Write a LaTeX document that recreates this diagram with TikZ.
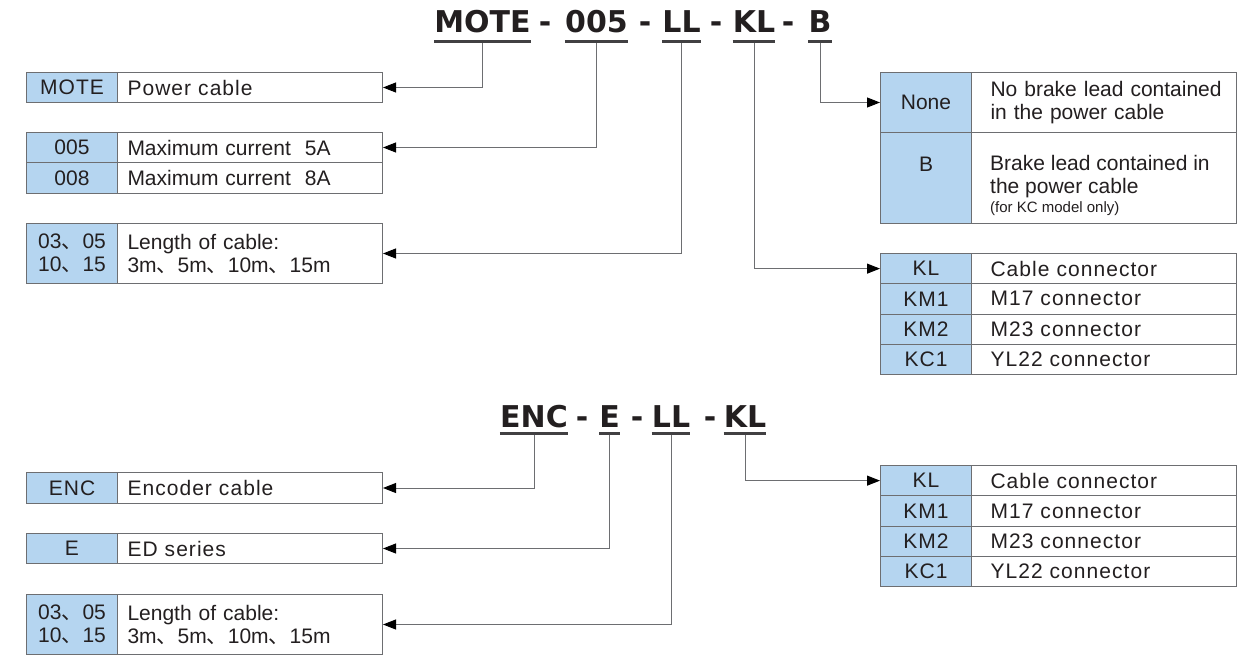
\documentclass[tikz,border=0pt]{standalone}
\usepackage{fontspec}
\setmainfont{Liberation Sans}
\newfontfamily\titlefont{DejaVu Sans}
\newfontfamily\cjk{Noto Sans CJK SC}
\newfontfamily\spacedfont{Liberation Sans}[LetterSpace=5]
\newcommand\dun{{\cjk 、}}
\usetikzlibrary{arrows.meta}
\definecolor{cellblue}{HTML}{B5D5F0}
\definecolor{bordergray}{HTML}{6D6E71}
\definecolor{linegray}{HTML}{6D6E71}
\definecolor{txt}{HTML}{231F20}
\definecolor{ulgray}{HTML}{414042}
\tikzset{
  body/.style={font=\fontsize{21}{23}\selectfont, text=txt},
  lab/.style={body, draw=bordergray, fill=cellblue, line width=1pt, minimum width=91pt, inner sep=0pt, anchor=north west, align=center},
  desc/.style={body, draw=bordergray, fill=white, line width=1pt, text width=245pt, inner xsep=10pt, inner ysep=0pt, anchor=north west, align=left},
  rdesc/.style={desc, text width=227pt, inner xsep=19pt},
  sp/.style={font=\spacedfont\fontsize{21}{23}\selectfont},
  ttl/.style={font=\titlefont\bfseries\fontsize{30}{36}\selectfont, text=txt, inner sep=0pt, anchor=base},
  uline/.style={draw=ulgray, line width=3pt},
  conn/.style={draw=linegray, line width=1pt, -{Triangle[length=13pt,width=10pt,color=black]}},
  plain/.style={body, inner sep=0pt},
}
\begin{document}
\begin{tikzpicture}[x=1pt,y=-1pt]
\useasboundingbox (0,0) rectangle (1239,658);

% ---------- Title 1 ----------
\node[ttl] (t1) at (482.5,33) {MOTE};
\node[ttl] (h1) at (545,33) {-};
\node[ttl] (t2) at (596.5,33) {005};
\node[ttl] (h2) at (645,33) {-};
\node[ttl] (t3) at (681.5,33) {LL};
\node[ttl] (h3) at (716,33) {-};
\node[ttl] (t4) at (754,33) {KL};
\node[ttl] (h4) at (788,33) {-};
\node[ttl] (t5) at (820,33) {B};
\foreach \t in {t1,t2,t3,t4,t5}{
  \draw[uline] ([yshift=-9pt]\t.base west) -- ([yshift=-9pt]\t.base east);
}

% ---------- Left boxes (top) ----------
\node[lab, sp, minimum height=30pt] (mote_l) at (26,72) {MOTE};
\node[desc, sp, minimum height=30pt] (mote_d) at (117,72) {Power cable};

\node[lab, minimum height=30pt] (a005_l) at (26,132) {005};
\node[desc, minimum height=30pt] (a005_d) at (117,132) {Maximum current\ \ 5A};
\node[lab, minimum height=31pt] (a008_l) at (26,162) {008};
\node[desc, minimum height=31pt] (a008_d) at (117,162) {Maximum current\ \ 8A};

\node[lab, minimum height=60pt] (len_l) at (26,223) {03\dun05\\10\dun15};
\node[desc, minimum height=60pt] (len_d) at (117,223) {Length of cable:\\3m\dun5m\dun10m\dun15m};

% ---------- Right top: brake ----------
\node[lab, minimum height=60pt] (none_l) at (880,72) {None};
\node[rdesc, minimum height=60pt] (none_d) at (971,72) {\mbox{No brake lead contained}\\\mbox{in the power cable}};
\node[lab, minimum height=91pt] (b_l) at (880,132) {};
\node[rdesc, minimum height=91pt] (b_d) at (971,132) {};
\node[plain, anchor=north] (b_lt) at ([yshift=-25pt]b_l.north) {B};
\node[plain, anchor=north west, align=left] (b_dt) at ([xshift=19pt,yshift=-23pt]b_d.north west)
  {Brake lead contained in\\the power cable\\[-4pt]{\fontsize{15}{17}\selectfont (for KC model only)}};

% ---------- Right: connector table 1 ----------
\node[lab, sp, minimum height=30.25pt] (k1l) at (880,253) {KL};
\node[rdesc, sp, minimum height=30.25pt] (k1d) at (971,253) {Cable connector};
\node[lab, sp, minimum height=30.25pt] (k2l) at (880,283.25) {KM1};
\node[rdesc, sp, minimum height=30.25pt] (k2d) at (971,283.25) {M17 connector};
\node[lab, sp, minimum height=30.25pt] (k3l) at (880,313.5) {KM2};
\node[rdesc, sp, minimum height=30.25pt] (k3d) at (971,313.5) {M23 connector};
\node[lab, sp, minimum height=30.25pt] (k4l) at (880,343.75) {KC1};
\node[rdesc, sp, minimum height=30.25pt] (k4d) at (971,343.75) {YL22 connector};

% ---------- Connectors 1 ----------
\draw[conn] ([yshift=-10.5pt]t1.base) |- (mote_d.east);
\draw[conn] ([yshift=-10.5pt]t2.base) |- (a005_d.east);
\draw[conn] ([yshift=-10.5pt]t3.base) |- (len_d.east);
\draw[conn] ([yshift=-10.5pt]t4.base) |- (k1l.west);
\draw[conn] ([yshift=-10.5pt]t5.base) |- (none_l.west);

% ---------- Title 2 ----------
\node[ttl] (e1) at (534,427) {ENC};
\node[ttl] (g1) at (582,427) {-};
\node[ttl] (e2) at (609.5,427) {E};
\node[ttl] (g2) at (637,427) {-};
\node[ttl] (e3) at (671,427) {LL};
\node[ttl] (g3) at (710,427) {-};
\node[ttl] (e4) at (745,427) {KL};
\foreach \t in {e1,e2,e3,e4}{
  \draw[uline] ([yshift=-6pt]\t.base west) -- ([yshift=-6pt]\t.base east);
}

% ---------- Left boxes (bottom) ----------
\node[lab, sp, minimum height=31pt] (enc_l) at (26,472) {ENC};
\node[desc, sp, minimum height=31pt] (enc_d) at (117,472) {Encoder cable};
\node[lab, sp, minimum height=30pt] (ed_l) at (26,533) {E};
\node[desc, sp, minimum height=30pt] (ed_d) at (117,533) {ED series};
\node[lab, minimum height=60pt] (len2_l) at (26,594) {03\dun05\\10\dun15};
\node[desc, minimum height=60pt] (len2_d) at (117,594) {Length of cable:\\3m\dun5m\dun10m\dun15m};

% ---------- Right: connector table 2 ----------
\node[lab, sp, minimum height=30.25pt] (m1l) at (880,465) {KL};
\node[rdesc, sp, minimum height=30.25pt] (m1d) at (971,465) {Cable connector};
\node[lab, sp, minimum height=30.25pt] (m2l) at (880,495.25) {KM1};
\node[rdesc, sp, minimum height=30.25pt] (m2d) at (971,495.25) {M17 connector};
\node[lab, sp, minimum height=30.25pt] (m3l) at (880,525.5) {KM2};
\node[rdesc, sp, minimum height=30.25pt] (m3d) at (971,525.5) {M23 connector};
\node[lab, sp, minimum height=30.25pt] (m4l) at (880,555.75) {KC1};
\node[rdesc, sp, minimum height=30.25pt] (m4d) at (971,555.75) {YL22 connector};

% ---------- Connectors 2 ----------
\draw[conn] ([yshift=-7.5pt]e1.base) |- (enc_d.east);
\draw[conn] ([yshift=-7.5pt]e2.base) |- (ed_d.east);
\draw[conn] ([yshift=-7.5pt]e3.base) |- (len2_d.east);
\draw[conn] ([yshift=-7.5pt]e4.base) |- (m1l.west);
\end{tikzpicture}
\end{document}
